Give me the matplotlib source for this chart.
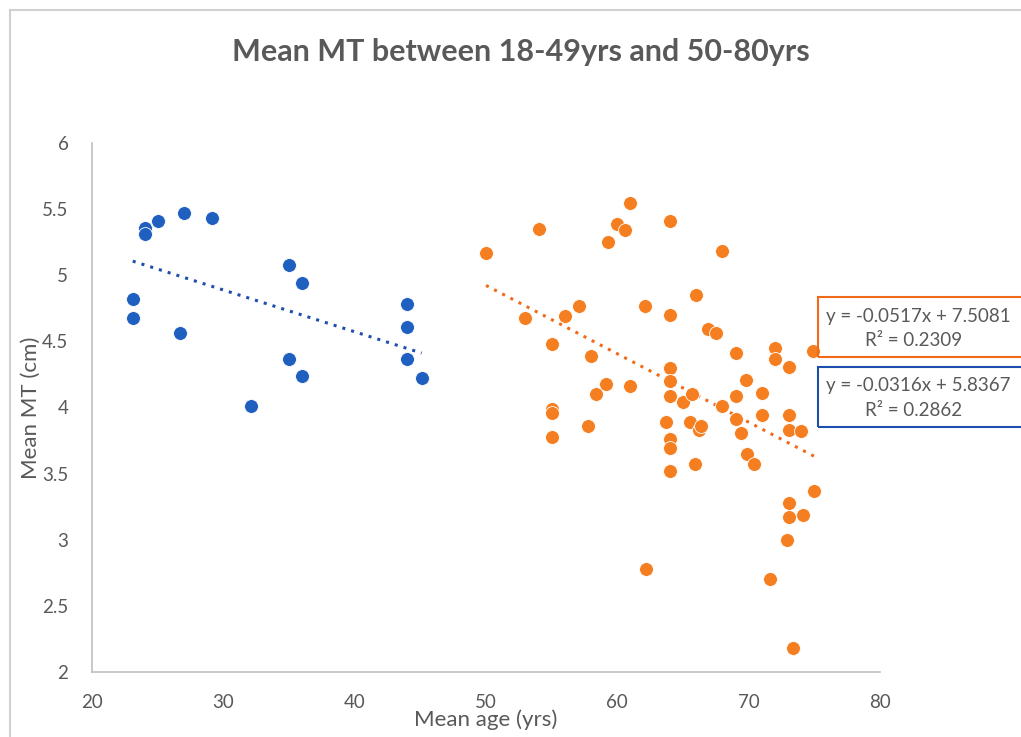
import matplotlib
matplotlib.use("Agg")
import matplotlib.pyplot as plt
from matplotlib.patches import Rectangle
import numpy as np

plt.rcParams['font.family'] = ['Lato', 'DejaVu Sans']

# 18-49 yrs group
young_age = [24.0, 24.0, 25.0, 27.0, 29.1, 23.1, 23.1, 26.7, 35.0, 36.0,
             35.0, 36.0, 32.1, 44.0, 44.0, 44.0, 45.1]
young_mt = [5.36, 5.31, 5.41, 5.47, 5.43, 4.82, 4.68, 4.56, 5.08, 4.94,
            4.37, 4.24, 4.01, 4.78, 4.61, 4.37, 4.22]

# 50-80 yrs group
old_age = [50.0, 53.0, 54.0, 55.0, 55.0, 55.0, 55.0, 56.0, 57.1, 57.75,
           58.0, 58.4, 59.1, 59.3, 60.0, 60.6, 61.0, 61.0, 62.1, 62.2,
           64.0, 64.0, 64.0, 64.0, 64.0, 63.7, 64.0, 64.0, 64.0, 65.0,
           65.7, 65.5, 65.9, 66.0, 66.2, 66.4, 66.9, 67.5, 68.0, 68.0,
           69.0, 69.0, 69.0, 69.4, 69.8, 69.9, 70.4, 71.0, 71.0, 71.6,
           72.0, 72.0, 72.9, 73.1, 73.1, 73.1, 73.1, 73.1, 73.4, 74.0,
           74.1, 74.9, 75.0]
old_mt = [5.17, 4.68, 5.35, 4.48, 3.99, 3.96, 3.78, 4.69, 4.77, 3.86,
          4.39, 4.10, 4.18, 5.25, 5.39, 5.34, 5.55, 4.16, 4.77, 2.78,
          5.41, 4.70, 4.30, 4.20, 4.09, 3.89, 3.76, 3.69, 3.52, 4.04,
          4.10, 3.89, 3.57, 4.85, 3.83, 3.86, 4.59, 4.56, 5.18, 4.01,
          4.41, 4.09, 3.91, 3.81, 4.21, 3.65, 3.57, 4.11, 3.94, 2.70,
          4.45, 4.37, 3.00, 4.31, 3.94, 3.83, 3.28, 3.17, 2.18, 3.82,
          3.19, 4.43, 3.37]

# trendline coefficients shown on the chart
young_fit = (-0.0316, 5.8367, 0.2862)
old_fit = (-0.0517, 7.5081, 0.2309)

x_ticks = [20, 30, 40, 50, 60, 70, 80]
y_ticks = [2, 2.5, 3, 3.5, 4, 4.5, 5, 5.5, 6]

blue = '#1f5fbf'
orange = '#f57f20'
grey_txt = '#595959'

W, H = 1021, 737
fig = plt.figure(figsize=(W / 100, H / 100), dpi=100)

# chart area border (only top/left visible)
fig.patches.append(Rectangle((10 / W, -0.05), 1.1, 1 - 10 / H + 0.05,
                             transform=fig.transFigure, fill=False,
                             edgecolor='#d0d0d0', lw=1.5))

ax = fig.add_axes([92 / W, (H - 672) / H, 788 / W, 529 / H])

ax.scatter(young_age, young_mt, s=100, color=blue, edgecolors='white',
           linewidths=0.6, zorder=3)
ax.scatter(old_age, old_mt, s=100, color=orange, edgecolors='white',
           linewidths=0.6, zorder=3)

xs = np.array([min(young_age), max(young_age)])
ax.plot(xs, young_fit[0] * xs + young_fit[1], ls=(0, (1, 2.0)), lw=2.2,
        color='#1f4fae', zorder=2)
xs = np.array([min(old_age), max(old_age)])
ax.plot(xs, old_fit[0] * xs + old_fit[1], ls=(0, (1, 2.0)), lw=2.2,
        color='#f06a1a', zorder=2)

ax.set_xlim(20, 80)
ax.set_ylim(2, 6)
ax.set_xticks(x_ticks)
ax.set_xticklabels([str(v) for v in x_ticks])
ax.set_yticks(y_ticks)
ax.set_yticklabels([('%g' % v) for v in y_ticks])
ax.tick_params(length=0, labelsize=13.5, labelcolor=grey_txt)
ax.tick_params(axis='x', pad=16)
ax.tick_params(axis='y', pad=17)
for s in ['top', 'right']:
    ax.spines[s].set_visible(False)
for s in ['left', 'bottom']:
    ax.spines[s].set_color('#bfbfbf')
    ax.spines[s].set_linewidth(1.2)

ax.set_xlabel('Mean age (yrs)', fontsize=16, color=grey_txt, va='center')
ax.xaxis.set_label_coords(0.5, (672 - 720) / -529)
ax.xaxis.set_label_coords(0.5, -(720 - 672) / 529)
ax.set_ylabel('Mean MT (cm)', fontsize=16, color=grey_txt, va='center')
ax.yaxis.set_label_coords(-(92 - 31) / 788, 0.5)

fig.text(521 / W, 1 - 52 / H, 'Mean MT between 18-49yrs and 50-80yrs',
         ha='center', va='center', fontsize=22, fontweight='bold',
         color=grey_txt)

# trendline equation boxes
def eq_box(top, col, fit):
    y0 = 1 - (top + 60) / H
    fig.patches.append(Rectangle((818 / W, y0), 0.3, 60 / H,
                                 transform=fig.transFigure, fill=False,
                                 edgecolor=col, lw=1.5))
    fig.text(918 / W, 1 - (top + 19) / H,
             'y = %.4fx + %.4f' % (fit[0], fit[1]), ha='center',
             va='center', fontsize=13.5, color=grey_txt)
    fig.text(914 / W, 1 - (top + 43) / H, 'R² = %.4f' % fit[2],
             ha='center', va='center', fontsize=13.5, color=grey_txt)

eq_box(297, '#f06a1a', old_fit)
eq_box(367, '#1f4fae', young_fit)

fig.savefig('out.png', dpi=100)
